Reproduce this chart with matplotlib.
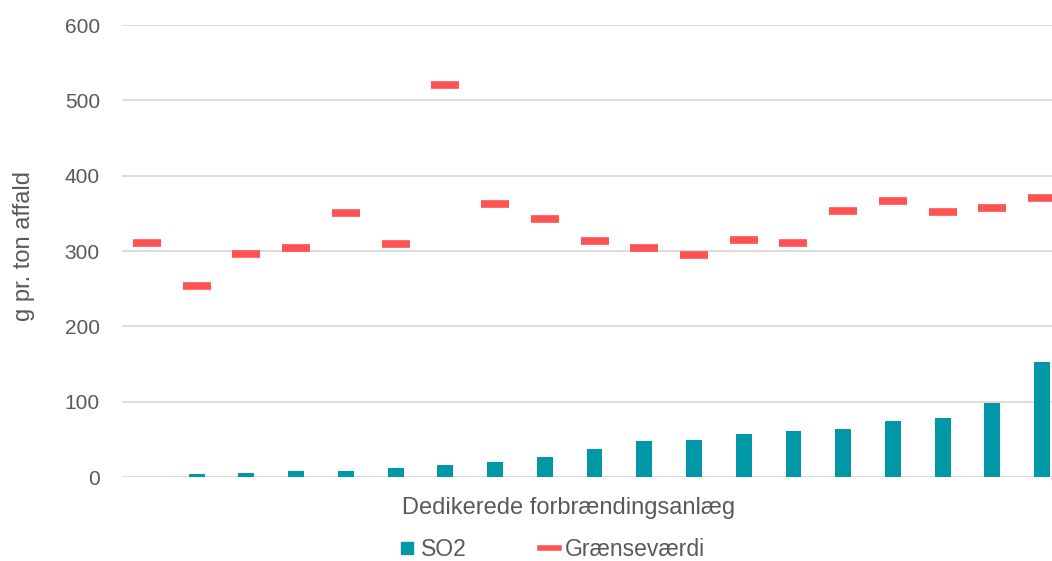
import numpy as np
import matplotlib.pyplot as plt
from matplotlib.lines import Line2D

plt.rcParams['font.family'] = ['Liberation Sans', 'DejaVu Sans']

# data to plot
n_plants = 19
so2 = (0, 3.5, 5, 7.5, 8, 12, 16, 20, 27, 37, 47.5, 49, 57.5, 61, 64, 74, 79, 98, 153)
limit = (310, 254, 296, 304, 350, 309, 520, 363, 343, 313, 304, 295, 315, 310, 353, 367, 352, 357, 371)

teal = '#0098A6'
red = '#FF5353'
grey = '#595959'

fig = plt.figure(figsize=(10.52, 5.61), dpi=100)
ax = fig.add_axes([0.116, 0.1497, 0.8983, 0.8057])
index = np.arange(n_plants)

ax.bar(index, so2, 0.32, color=teal, zorder=3)
ax.plot(index, limit, linestyle='none', marker='_', ms=20, mew=5.5,
        color=red, zorder=4)

ax.set_xlim(-0.5, n_plants - 0.5)
ax.set_ylim(0, 600)
ax.set_yticks(range(0, 601, 100))
ax.set_xticks([])
ax.grid(True, axis='y', color='#D9D9D9', linewidth=1.3, zorder=0)
for s in ax.spines.values():
    s.set_visible(False)
ax.tick_params(axis='y', length=0, pad=16, labelsize=15, labelcolor=grey)

ax.set_ylabel('g pr. ton affald', fontsize=17, color=grey)
ax.yaxis.set_label_coords(-0.092, 0.511)

fig.text(569 / 1052, 1 - 508 / 561, 'Dedikerede forbrændingsanlæg',
         ha='center', va='center', fontsize=17, color=grey)

handles = [Line2D([], [], linestyle='none', marker='s', ms=9, color=teal),
           Line2D([], [], color=red, linewidth=4)]
fig.legend(handles, ['SO2', 'Grænseværdi'], loc='center',
           bbox_to_anchor=(551 / 1052, 1 - 550 / 561), ncol=2, frameon=False,
           fontsize=16.5, labelcolor=grey, handlelength=0.8, handletextpad=0.25,
           columnspacing=3.2)

fig.savefig('out.png', dpi=100)
